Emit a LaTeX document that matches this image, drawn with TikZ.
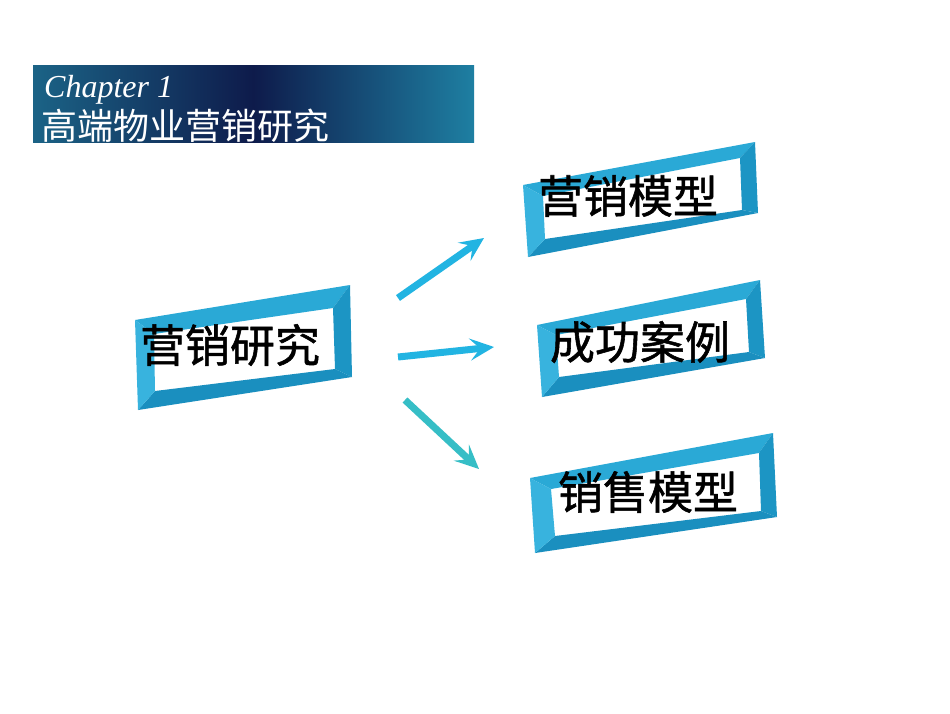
\documentclass[tikz,border=0pt]{standalone}
\usepackage{fontspec}
\setmainfont{Liberation Serif}
\newfontfamily\cjk{Noto Sans CJK SC}
\newfontfamily\cjkb[FakeBold=1.2]{Noto Sans CJK SC}
\usetikzlibrary{arrows.meta}
\definecolor{bannerL}{HTML}{1B6386}
\definecolor{bannerM}{HTML}{0E1B4B}
\definecolor{bannerR}{HTML}{1E7FA2}
\definecolor{ftop}{HTML}{2AA9D6}
\definecolor{fright}{HTML}{1C95C4}
\definecolor{fbottom}{HTML}{1A8FBF}
\definecolor{fleft}{HTML}{38B3DE}
\definecolor{arrowc}{HTML}{22B4E2}
\definecolor{arrowt}{HTML}{36BEC6}
\newcommand\tubeframe[8]{%
  \fill[ftop] (#1)--(#2)--(#6)--(#5)--cycle;
  \fill[fright] (#2)--(#3)--(#7)--(#6)--cycle;
  \fill[fbottom] (#3)--(#4)--(#8)--(#7)--cycle;
  \fill[fleft] (#4)--(#1)--(#5)--(#8)--cycle;
}
\tikzset{
  boxtext/.style={font=\cjkb\fontsize{45}{48}\selectfont, text=black, inner sep=0pt},
  flow/.style={line width=7pt, color=arrowc, -{Stealth[length=24pt,width=22pt,inset=10pt]}},
}
\begin{document}
\begin{tikzpicture}[x=1pt,y=-1pt]
\useasboundingbox (0,0) rectangle (950,713);
\fill[white] (0,0) rectangle (950,713);
% banner
\begin{scope}
\clip (33,65) rectangle (474,142);
\shade[left color=bannerL, right color=bannerR, middle color=bannerM] (33,65) rectangle (474,142);
\node[anchor=base west, text=white, font=\itshape\fontsize{32}{34}\selectfont, inner sep=0pt] (chap) at (44,97) {Chapter 1};
\node[anchor=base west, text=white, font=\cjk\fontsize{36}{40}\selectfont, inner sep=0pt] (title) at (41,139) {高端物业营销研究};
\end{scope}
% frame 1
\coordinate (a1) at (135,320); \coordinate (a2) at (350,285);
\coordinate (a3) at (352,377); \coordinate (a4) at (138,410);
\coordinate (b1) at (154,334); \coordinate (b2) at (333,308);
\coordinate (b3) at (335,369); \coordinate (b4) at (155,391);
\tubeframe{a1}{a2}{a3}{a4}{b1}{b2}{b3}{b4}
% frame 2
\coordinate (c1) at (523,185); \coordinate (c2) at (755,142);
\coordinate (c3) at (758,213); \coordinate (c4) at (528,257);
\coordinate (d1) at (543,196); \coordinate (d2) at (740,158);
\coordinate (d3) at (742,210); \coordinate (d4) at (545,239);
\tubeframe{c1}{c2}{c3}{c4}{d1}{d2}{d3}{d4}
% frame 3
\coordinate (e1) at (537,325); \coordinate (e2) at (760,280);
\coordinate (e3) at (765,358); \coordinate (e4) at (542,397);
\coordinate (f1) at (556,335); \coordinate (f2) at (746,299);
\coordinate (f3) at (749,352); \coordinate (f4) at (559,377);
\tubeframe{e1}{e2}{e3}{e4}{f1}{f2}{f3}{f4}
% frame 4
\coordinate (g1) at (530,478); \coordinate (g2) at (773,433);
\coordinate (g3) at (777,517); \coordinate (g4) at (535,553);
\coordinate (h1) at (551,489); \coordinate (h2) at (759,453);
\coordinate (h3) at (761,511); \coordinate (h4) at (555,536);
\tubeframe{g1}{g2}{g3}{g4}{h1}{h2}{h3}{h4}
% texts
\node[boxtext] (research) at (230,345) {营销研究};
\node[boxtext] (model) at (628,196) {营销模型};
\node[boxtext] (cases) at (640,342) {成功案例};
\node[boxtext] (sales) at (648,492) {销售模型};
% arrows
\coordinate (s1) at (398,298); \coordinate (t1) at (484,238);
\coordinate (s2) at (398,357); \coordinate (t2) at (494,347);
\coordinate (s3) at (405,400); \coordinate (t3) at (479,469);
\draw[flow] (s1) -- (t1);
\draw[flow] (s2) -- (t2);
\draw[flow, color=arrowt] (s3) -- (t3);
\end{tikzpicture}
\end{document}
